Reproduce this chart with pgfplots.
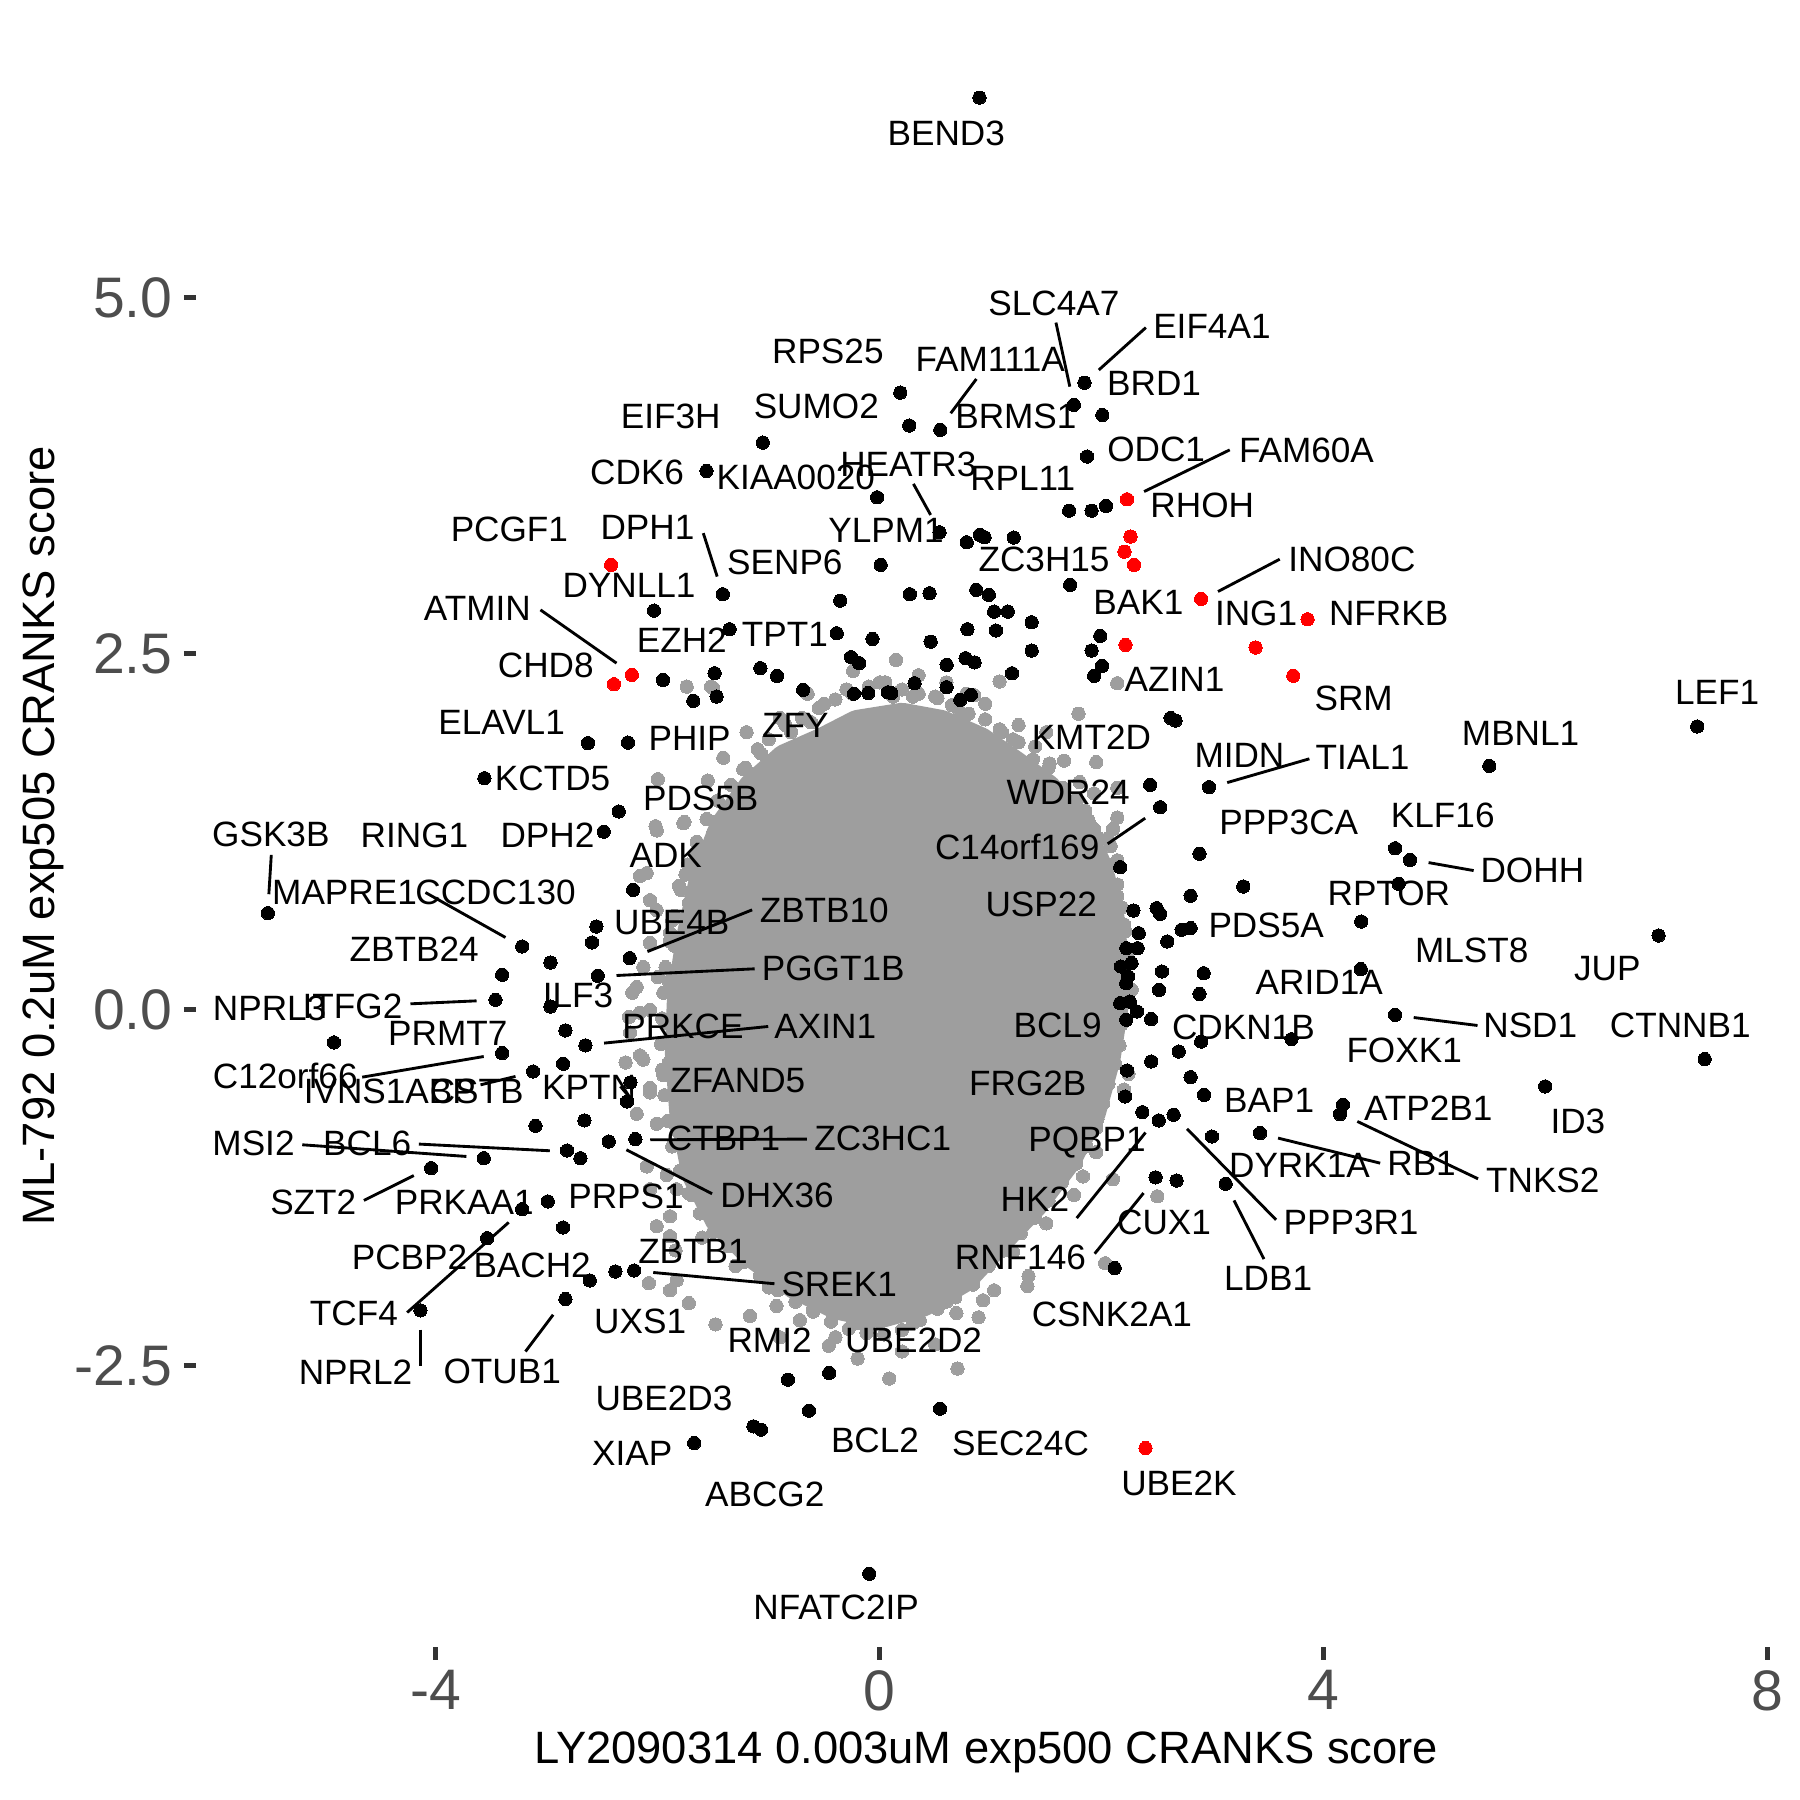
\documentclass[border=0pt]{standalone}
\usepackage{fontspec}
\setmainfont{Liberation Sans}
\usepackage{pgfplots}
\pgfplotsset{compat=1.18}
\definecolor{cloud}{RGB}{158,158,158}
\definecolor{gray20}{RGB}{51,51,51}
\definecolor{gray30}{RGB}{77,77,77}
\definecolor{hit}{RGB}{255,0,0}
\newcommand{\seg}[4]{\addplot[black, line width=0.8bp, forget plot, on layer=axis foreground] coordinates {(#1,#2) (#3,#4)};}
\newcommand{\lab}[3]{\node[font=\fontsize{9.85bp}{11bp}\selectfont, inner sep=0pt, anchor=center] at (axis cs:#1,#2) {#3};}
\begin{document}
\begin{tikzpicture}
\begin{axis}[
  set layers=standard,
  scale only axis, width=442.6bp, height=454.7bp,
  xmin=-6.16, xmax=8.078, ymin=-4.479, ymax=6.925,
  clip=false,
  axis line style={draw=none},
  tick pos=left, tick align=outside, major tick length=3.4bp,
  tick style={color=gray20, line width=1.4bp},
  xtick={-4,0,4,8}, xticklabels={-4,0,4,8},
  ytick={-2.5,0,2.5,5}, yticklabels={-2.5,0.0,2.5,5.0},
  xticklabel style={font=\fontsize{16bp}{16bp}\selectfont, text=gray30, inner sep=0pt, anchor=north, yshift=-2.8bp},
  yticklabel style={font=\fontsize{16bp}{16bp}\selectfont, text=gray30, inner sep=0pt, anchor=east, xshift=-3.0bp},
]
% dense core of the gray cloud
\addplot[fill=cloud, draw=cloud, line width=8.5bp, line join=round, forget plot] coordinates {
(-0.5,1.88) (-0.2,2.0) (0.2,2.05) (0.55,2.0) (0.9,1.88) (1.2,1.72) (1.5,1.55) (1.78,1.3) (1.96,1.0) (2.06,0.7) (2.1,0.4) (2.1,0.0) (2.03,-0.35) (1.9,-0.72) (1.68,-1.05) (1.38,-1.36) (1.06,-1.62) (0.75,-1.88) (0.38,-2.05) (0.0,-2.13) (-0.38,-2.07) (-0.75,-1.93) (-1.12,-1.72) (-1.44,-1.47) (-1.65,-1.15) (-1.76,-0.72) (-1.8,-0.3) (-1.78,0.1) (-1.7,0.5) (-1.58,0.92) (-1.4,1.28) (-1.14,1.56) (-0.85,1.76) (-0.5,1.88)};
% gray points along the edge of the cloud
\addplot[only marks, mark=*, mark size=1.86bp, cloud, mark options={line width=0pt}, forget plot] coordinates {
(-1.0,1.9) (-0.85,2.0) (-0.7,2.05) (-0.55,2.12) (-0.4,2.18) (-0.25,2.22) (-0.1,2.27) (0.05,2.3) (0.2,2.25) (0.35,2.22) (0.5,2.2) (0.65,2.14) (0.8,2.08) (0.95,2.04) (1.1,1.95) (1.25,1.88) (1.38,1.76) (1.52,1.7) (1.65,1.56) (1.78,1.48) (1.88,1.33) (1.98,1.2) (2.06,1.02) (2.14,0.88) (2.18,0.72) (2.21,0.55) (2.23,0.4) (2.22,0.22) (2.21,0.05) (2.18,-0.1) (2.16,-0.25) (2.12,-0.38) (2.06,-0.52) (2.01,-0.66) (1.95,-0.83) (1.86,-0.96) (1.77,-1.08) (1.64,-1.21) (1.52,-1.34) (1.4,-1.46) (1.27,-1.57) (1.12,-1.69) (0.98,-1.8) (0.84,-1.93) (0.68,-2.02) (0.52,-2.1) (0.36,-2.18) (0.2,-2.25) (0.04,-2.28) (-0.12,-2.27) (-0.28,-2.24) (-0.44,-2.19) (-0.6,-2.12) (-0.76,-2.05) (-0.92,-1.97) (-1.08,-1.87) (-1.22,-1.77) (-1.36,-1.66) (-1.5,-1.56) (-1.62,-1.43) (-1.72,-1.29) (-1.8,-1.13) (-1.87,-0.96) (-1.91,-0.78) (-1.94,-0.6) (-1.96,-0.42) (-1.97,-0.24) (-1.96,-0.06) (-1.95,0.12) (-1.93,0.3) (-1.89,0.48) (-1.85,0.66) (-1.79,0.84) (-1.73,1.02) (-1.65,1.18) (-1.56,1.34) (-1.46,1.47) (-1.34,1.58) (-1.21,1.7) (-1.07,1.8)
(-0.62,2.02) (0.12,2.2) (0.72,2.04) (1.32,1.66) (1.9,1.1) (2.12,0.62) (2.14,-0.05) (1.92,-0.6) (1.58,-1.15) (1.05,-1.6) (0.45,-2.0) (-0.2,-2.2) (-0.85,-1.9) (-1.42,-1.56) (-1.82,-0.85) (-1.9,0.2) (-1.72,0.75) (-1.5,1.25)
(-1.52,2.27) (-1.50,2.26) (-1.10,1.83) (-1.41,1.77) (-1.23,1.69) (-2.00,1.62) (-1.55,1.61) (-1.10,1.57) (-2.02,1.29) (-1.76,1.32) (-1.49,1.32) (-1.65,1.10) (-1.49,1.08) (-2.10,0.96) (-1.81,0.87) (-1.65,0.80) (-2.07,0.77) (-1.87,0.63) (-2.07,0.47) (-1.85,0.45) (-2.13,0.30) (-2.0,0.23) (-2.23,0.12) (-1.81,0.12) (-2.07,0.0) (-2.26,-0.05) (-2.13,-0.35) (-2.29,-0.37) (-1.90,-0.37) (-2.07,-0.55) (-2.01,1.26) (-1.77,1.31) (-2.16,0.94) (-2.01,0.70) (-1.89,0.54) (-2.19,0.16) (-2.16,-0.02) (-2.25,-0.16) (-2.16,-0.32) (-1.95,-0.46) (-2.07,-0.58) (-2.19,-0.73) (-2.01,-0.80) (-2.10,-1.10) (-1.92,-1.16) (-2.07,-1.26) (-1.89,-1.45) (-2.01,-1.52) (-1.83,-1.26) (-1.89,-1.59) (-1.84,-1.69) (-1.89,-1.97) (-1.83,-1.90) (-1.48,-2.21) (-2.08,-1.92) (-1.72,-2.06) (-1.17,-2.15) (-0.93,-2.08) (-0.72,-2.18) (-0.46,-2.36) (-0.22,-2.15) (-0.11,-2.22) (0.10,-2.08) (0.085,-2.59) (0.48,-1.99) (0.70,-2.52) (0.69,-2.13) (0.93,-2.04) (0.89,-2.16) (1.03,-1.97) (1.33,-1.94) (1.34,-1.87) (2.03,-1.78) (2.10,-1.19) (2.50,-1.31) (1.83,-1.17) (1.66,-1.06) (2.07,-0.42) (1.86,-0.61) (1.96,-0.77) (1.62,-1.10) (1.55,-1.22) (1.79,2.08) (1.08,1.97) (1.95,1.74) (1.66,1.75) (1.11,1.82) (1.53,1.73) (2.14,1.56) (1.93,1.52) (2.14,1.35) (2.10,1.27) (1.93,1.27) (2.08,1.15) (2.14,1.05) (2.0,0.96) (2.10,0.87) (2.14,0.80) (1.97,0.69) (2.11,0.51) (2.0,0.37) (2.0,0.19) (2.27,0.14) (2.04,-0.28) (2.20,-0.56) (2.24,-0.45) (2.139,2.294) (1.079,2.306) (0.78,2.22) (0.85,2.21) (0.146,2.458) (-0.24,2.38) (-0.65,2.22) (0.52,2.19) (-0.2,-2.45)
(-0.9,2.05) (-0.5,2.15) (-0.3,2.25) (0.0,2.3) (0.35,2.35) (0.6,2.3) (0.95,2.15) (1.25,2.0) (1.4,1.85) (-1.2,1.95) (-0.8,1.95) (0.3,2.2) (0.7,2.12) (1.2,1.9) (1.5,1.95) (1.8,1.6) (1.85,1.4) (-1.3,1.45) (-1.75,0.95) (-1.85,0.25) (-1.9,-0.1) (-1.85,-0.8) (-1.7,-1.3) (-1.6,-1.6) (-1.3,-1.8) (-1.0,-1.95) (-0.6,-2.1) (0.3,-2.2) (0.6,-2.05) (1.2,-1.7) (1.5,-1.5) (1.75,-1.3) (1.95,-1.0) (2.12,-0.2) (2.15,0.3) (2.2,0.6) (2.05,1.2) (-0.4,-2.3) (0.2,-2.4) (0.5,-2.35) (-0.9,-2.3) (-1.74,2.27)};
% black points
\addplot[only marks, mark=*, mark size=1.86bp, black, mark options={line width=0pt}, forget plot] coordinates {
(0.898,6.407) (0.185,4.335) (0.265,4.104) (0.545,4.073) (-1.054,3.984) (-1.561,3.785) (-0.024,3.600) (0.538,3.354) (-1.414,2.919) (0.008,3.125) (-2.034,2.804) (-0.356,2.874) (0.271,2.919) (0.448,2.926) (-1.353,2.673) (-0.388,2.645) (-0.066,2.605) (0.458,2.586) (-1.954,2.317) (-1.488,2.364) (-1.076,2.400) (-0.925,2.345) (-0.259,2.477) (-0.186,2.435) (-0.690,2.247) (0.313,2.294) (0.602,2.423) (0.602,2.266) (-1.680,2.170) (-1.470,2.200) (-0.233,2.220) (-0.104,2.225) (0.072,2.230) (0.104,2.225)
(1.844,4.405) (1.748,4.249) (2.005,4.178) (1.867,3.886) (1.706,3.506) (1.908,3.506) (2.037,3.539) (0.783,3.284) (0.901,3.336) (0.944,3.319) (1.207,3.317) (1.715,2.985) (0.869,2.949) (0.982,2.914) (1.030,2.797) (1.153,2.797) (1.368,2.722) (0.789,2.673) (1.046,2.664) (1.368,2.523) (0.773,2.470) (0.854,2.440) (1.191,2.364) (1.986,2.626) (1.908,2.523) (2.002,2.416) (1.931,2.346) (0.725,2.177) (0.820,2.212)
(2.664,2.032) (2.62,2.05) (2.436,1.580) (2.526,1.423) (2.966,1.564) (2.166,1.002) (2.880,1.096) (4.642,1.135) (4.777,1.053) (4.674,0.885) (3.275,0.866) (2.800,0.801) (2.285,0.697) (2.494,0.714) (2.526,0.674) (2.719,0.562) (2.800,0.574) (2.590,0.480) (2.333,0.538) (2.221,0.433) (2.323,0.433) (2.172,0.304) (2.268,0.328) (2.237,0.234) (2.220,0.187) (2.542,0.269) (2.516,0.140) (2.918,0.257) (2.880,0.112) (4.333,0.286) (4.337,0.620) (2.166,0.047) (2.252,0.058) (2.317,-0.012) (2.220,-0.070) (2.445,-0.065) (2.895,-0.223) (3.709,-0.206) (2.693,-0.293) (2.445,-0.363) (2.227,-0.426) (2.800,-0.473) (2.921,-0.597) (4.642,-0.035) (5.491,1.713)
(7.364,1.990) (7.016,0.522) (7.431,-0.346) (5.994,-0.538) (4.172,-0.667) (4.146,-0.733)
(3.426,-0.866) (2.992,-0.890) (2.365,-0.719) (2.513,-0.777) (2.647,-0.737) (2.210,-0.609) (3.116,-1.222) (2.485,-1.177) (2.674,-1.199) (2.116,-1.814)
(-0.828,-2.598) (-0.456,-2.551) (-0.638,-2.816) (0.543,-2.802) (-1.138,-2.926) (-1.070,-2.949) (-1.672,-3.043) (-0.095,-3.961)
(-5.513,0.679) (-2.487,1.251) (-2.352,1.393) (-2.222,0.843) (-2.553,0.585) (-2.592,0.473) (-2.253,0.363) (-2.541,0.239) (-3.222,0.445) (-2.967,0.332) (-3.402,0.246) (-3.462,0.070) (-2.967,0.023) (-4.918,-0.229) (-2.832,-0.145) (-2.652,-0.250) (-3.402,-0.304) (-3.123,-0.433) (-2.853,-0.379) (-2.247,-0.510) (-2.277,-0.644) (-3.102,-0.815) (-2.661,-0.777) (-2.442,-0.925) (-2.202,-0.908) (-2.817,-0.988) (-2.697,-1.042) (-3.568,-1.042) (-4.042,-1.112) (-3.222,-1.400) (-2.991,-1.346) (-2.853,-1.529) (-3.537,-1.604) (-4.138,-2.111) (-2.832,-2.032) (-2.613,-1.901) (-2.382,-1.838) (-2.213,-1.831) (-2.629,1.873) (-2.269,1.877) (-3.562,1.627)};
% red points
\addplot[only marks, mark=*, mark size=1.86bp, hit, mark options={line width=0pt}, forget plot] coordinates {
(-2.420,3.125) (-2.234,2.353) (-2.395,2.287) (2.227,3.586) (2.259,3.324) (2.204,3.218) (2.291,3.125) (2.895,2.886) (3.854,2.743) (2.214,2.563) (3.385,2.545) (3.725,2.346) (2.394,-3.078)};
% leader segments
\seg{1.587}{4.827}{1.712}{4.377}
\seg{2.397}{4.792}{1.973}{4.494}
\seg{0.870}{4.431}{0.639}{4.19}
\seg{0.303}{3.694}{0.458}{3.476}
\seg{3.153}{3.933}{2.381}{3.640}
\seg{3.603}{3.165}{3.047}{2.938}
\seg{-1.590}{3.348}{-1.465}{3.043}
\seg{-3.057}{2.809}{-2.372}{2.435}
\seg{3.130}{1.596}{3.870}{1.763}
\seg{2.053}{1.166}{2.391}{1.346}
\seg{4.944}{1.034}{5.350}{0.978}
\seg{4.810}{-0.054}{5.385}{-0.110}
\seg{4.302}{-0.784}{5.390}{-1.187}
\seg{3.588}{-0.901}{4.508}{-1.077}
\seg{2.768}{-0.836}{3.570}{-1.475}
\seg{3.191}{-1.339}{3.461}{-1.751}
\seg{1.774}{-1.463}{2.394}{-0.862}
\seg{1.936}{-1.713}{2.376}{-1.287}
\seg{-5.482}{1.088}{-5.504}{0.812}
\seg{-4.093}{0.824}{-3.372}{0.508}
\seg{-2.093}{0.409}{-1.150}{0.702}
\seg{-2.372}{0.241}{-1.127}{0.288}
\seg{-4.228}{0.042}{-3.633}{0.063}
\seg{-2.484}{-0.234}{-1.005}{-0.117}
\seg{-4.663}{-0.473}{-3.568}{-0.328}
\seg{-3.597}{-0.527}{-3.282}{-0.468}
\seg{-4.153}{-0.943}{-2.973}{-0.990}
\seg{-5.203}{-0.948}{-3.724}{-1.030}
\seg{-2.068}{-0.913}{-0.656}{-0.908}
\seg{-2.283}{-0.983}{-1.511}{-1.292}
\seg{-4.648}{-1.339}{-4.198}{-1.164}
\seg{-3.343}{-1.493}{-4.258}{-2.126}
\seg{-4.138}{-2.247}{-4.138}{-2.500}
\seg{-2.943}{-2.142}{-3.192}{-2.400}
\seg{-2.041}{-1.845}{-0.949}{-1.924}
\seg{-2.337}{-0.538}{-2.247}{-0.620}
% labels
\begin{pgfonlayer}{axis foreground}
\lab{0.599}{6.157}{BEND3}
\lab{1.568}{4.963}{SLC4A7}
\lab{2.992}{4.799}{EIF4A1}
\lab{-0.468}{4.623}{RPS25}
\lab{0.995}{4.571}{FAM111A}
\lab{2.471}{4.401}{BRD1}
\lab{-0.572}{4.235}{SUMO2}
\lab{1.226}{4.167}{BRMS1}
\lab{-1.883}{4.171}{EIF3H}
\lab{2.49}{3.933}{ODC1}
\lab{3.844}{3.930}{FAM60A}
\lab{0.257}{3.834}{HEATR3}
\lab{-2.186}{3.778}{CDK6}
\lab{-0.757}{3.738}{KIAA0020}
\lab{1.288}{3.734}{RPL11}
\lab{2.905}{3.541}{RHOH}
\lab{-3.337}{3.376}{PCGF1}
\lab{-2.093}{3.387}{DPH1}
\lab{0.056}{3.366}{YLPM1}
\lab{1.480}{3.167}{ZC3H15}
\lab{4.253}{3.167}{INO80C}
\lab{-0.855}{3.141}{SENP6}
\lab{-2.259}{2.98}{DYNLL1}
\lab{2.33}{2.863}{BAK1}
\lab{-3.626}{2.816}{ATMIN}
\lab{3.39}{2.781}{ING1}
\lab{4.584}{2.781}{NFRKB}
\lab{-0.855}{2.64}{TPT1}
\lab{-1.784}{2.594}{EZH2}
\lab{-3.009}{2.418}{CHD8}
\lab{2.655}{2.324}{AZIN1}
\lab{4.269}{2.186}{SRM}
\lab{7.543}{2.231}{LEF1}
\lab{-3.407}{2.020}{ELAVL1}
\lab{-0.761}{1.999}{ZFY}
\lab{5.773}{1.940}{MBNL1}
\lab{1.906}{1.915}{KMT2D}
\lab{-1.713}{1.905}{PHIP}
\lab{3.240}{1.789}{MIDN}
\lab{4.349}{1.772}{TIAL1}
\lab{-2.948}{1.622}{KCTD5}
\lab{1.697}{1.529}{WDR24}
\lab{-1.613}{1.482}{PDS5B}
\lab{5.072}{1.365}{KLF16}
\lab{3.684}{1.318}{PPP3CA}
\lab{-5.486}{1.229}{GSK3B}
\lab{-4.192}{1.224}{RING1}
\lab{-2.994}{1.224}{DPH2}
\lab{1.238}{1.143}{C14orf169}
\lab{-1.928}{1.084}{ADK}
\lab{5.879}{0.978}{DOHH}
\lab{-4.822}{0.826}{MAPRE1}
\lab{-3.462}{0.826}{CCDC130}
\lab{4.586}{0.815}{RPTOR}
\lab{1.455}{0.744}{USP22}
\lab{-0.50}{0.697}{ZBTB10}
\lab{-1.874}{0.615}{UBE4B}
\lab{3.481}{0.592}{PDS5A}
\lab{-4.195}{0.428}{ZBTB24}
\lab{5.333}{0.416}{MLST8}
\lab{-0.42}{0.288}{PGGT1B}
\lab{6.554}{0.288}{JUP}
\lab{3.959}{0.194}{ARID1A}
\lab{-2.718}{0.10}{ILF3}
\lab{-5.497}{0.007}{NPRL3}
\lab{-4.75}{0.023}{ITFG2}
\lab{-1.774}{-0.117}{PRKCE}
\lab{-0.491}{-0.12}{AXIN1}
\lab{1.603}{-0.110}{BCL9}
\lab{3.276}{-0.122}{CDKN1B}
\lab{5.860}{-0.110}{NSD1}
\lab{7.211}{-0.110}{CTNNB1}
\lab{-3.892}{-0.164}{PRMT7}
\lab{4.724}{-0.286}{FOXK1}
\lab{-5.356}{-0.468}{C12orf66}
\lab{-1.279}{-0.50}{ZFAND5}
\lab{1.333}{-0.520}{FRG2B}
\lab{-2.619}{-0.543}{KPTN}
\lab{-4.414}{-0.574}{IVNS1ABP}
\lab{-3.631}{-0.574}{CSTB}
\lab{3.508}{-0.637}{BAP1}
\lab{4.941}{-0.691}{ATP2B1}
\lab{6.289}{-0.784}{ID3}
\lab{-5.642}{-0.941}{MSI2}
\lab{-4.618}{-0.941}{BCL6}
\lab{-1.407}{-0.906}{CTBP1}
\lab{0.026}{-0.906}{ZC3HC1}
\lab{1.867}{-0.934}{PQBP1}
\lab{4.881}{-1.081}{RB1}
\lab{3.781}{-1.093}{DYRK1A}
\lab{5.973}{-1.199}{TNKS2}
\lab{-2.286}{-1.313}{PRPS1}
\lab{-0.925}{-1.304}{DHX36}
\lab{1.397}{-1.327}{HK2}
\lab{-5.104}{-1.350}{SZT2}
\lab{-3.744}{-1.35}{PRKAA1}
\lab{2.561}{-1.491}{CUX1}
\lab{4.246}{-1.491}{PPP3R1}
\lab{-1.683}{-1.697}{ZBTB1}
\lab{-4.237}{-1.737}{PCBP2}
\lab{1.267}{-1.737}{RNF146}
\lab{-3.132}{-1.796}{BACH2}
\lab{3.498}{-1.889}{LDB1}
\lab{-0.366}{-1.931}{SREK1}
\lab{-4.738}{-2.130}{TCF4}
\lab{2.091}{-2.142}{CSNK2A1}
\lab{-2.159}{-2.191}{UXS1}
\lab{-0.993}{-2.322}{RMI2}
\lab{0.305}{-2.322}{UBE2D2}
\lab{-4.723}{-2.542}{NPRL2}
\lab{-3.402}{-2.542}{OTUB1}
\lab{-1.944}{-2.727}{UBE2D3}
\lab{-0.043}{-3.022}{BCL2}
\lab{1.268}{-3.046}{SEC24C}
\lab{-2.230}{-3.118}{XIAP}
\lab{2.695}{-3.327}{UBE2K}
\lab{-1.036}{-3.406}{ABCG2}
\lab{-0.393}{-4.195}{NFATC2IP}
\end{pgfonlayer}
\end{axis}
\node[font=\fontsize{12.7bp}{14bp}\selectfont, anchor=center] at ([yshift=-29.4bp]current axis.south) {LY2090314 0.003uM exp500 CRANKS score};
\node[font=\fontsize{12.7bp}{14bp}\selectfont, anchor=center, rotate=90] at ([xshift=-42.7bp]current axis.west) {ML-792 0.2uM exp505 CRANKS score};
\pgfresetboundingbox
\path[use as bounding box] ([shift={(-54.9bp,-42.6bp)}]current axis.south west) rectangle ([shift={(6.6bp,6.7bp)}]current axis.north east);
\end{tikzpicture}
\end{document}
